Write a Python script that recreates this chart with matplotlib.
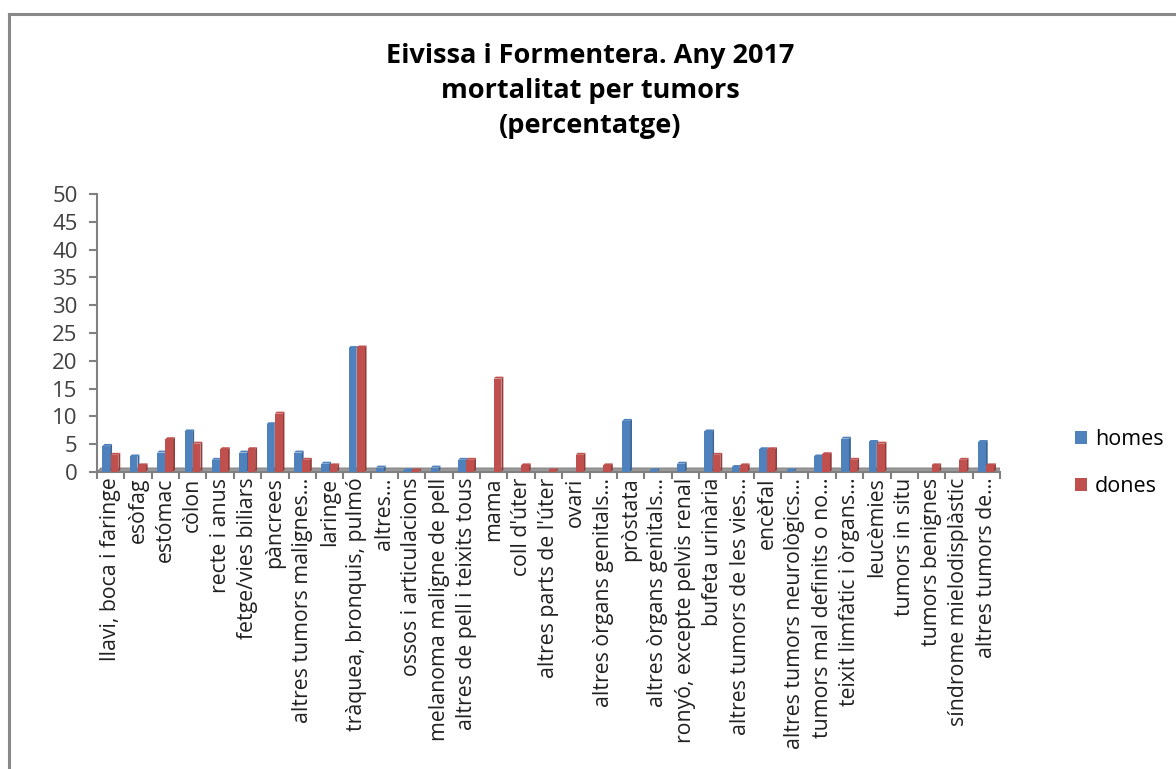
import matplotlib
matplotlib.use("Agg")
import matplotlib.pyplot as plt
import numpy as np
from matplotlib.patches import Rectangle, Polygon
from matplotlib.lines import Line2D

categories = [
    "llavi, boca i faringe", "esòfag", "estómac", "còlon", "recte i anus",
    "fetge/vies biliars", "pàncrees", "altres tumors malignes...", "laringe",
    "tràquea, bronquis, pulmó", "altres...", "ossos i articulacions",
    "melanoma maligne de pell", "altres de pell i teixits tous", "mama",
    "coll d'úter", "altres parts de l'úter", "ovari", "altres òrgans genitals...",
    "pròstata", "altres òrgans genitals...", "ronyó, excepte pelvis renal",
    "bufeta urinària", "altres tumors de les vies...", "encèfal",
    "altres tumors neurològics...", "tumors mal definits o no...",
    "teixit limfàtic i òrgans...", "leucèmies", "tumors in situ",
    "tumors benignes", "síndrome mielodisplàstic", "altres tumors de...",
]
homes = [4.7, 2.8, 3.5, 7.3, 2.2, 3.5, 8.6, 3.5, 1.5, 22.3, 0.8, 0.3,
         0.8, 2.2, 0.0, 0.0, 0.0, 0.0, 0.0, 9.2, 0.3, 1.5, 7.3, 0.9,
         4.1, 0.3, 2.8, 6.0, 5.4, 0.0, 0.0, 0.0, 5.4]
dones = [3.1, 1.2, 5.9, 5.1, 4.1, 4.1, 10.5, 2.2, 1.2, 22.4, 0.0, 0.3,
         0.0, 2.2, 16.8, 1.2, 0.3, 3.1, 1.2, 0.0, 0.0, 0.0, 3.1, 1.2,
         4.1, 0.0, 3.2, 2.2, 5.1, 0.0, 1.2, 2.2, 1.2]
series_names = ["homes", "dones"]
yticks = list(range(0, 55, 5))

blue = "#4F81BD"
red = "#C0504D"
blue_dark = "#3A6496"
red_dark = "#953B39"

fig = plt.figure(figsize=(11.76, 7.69), dpi=100)
# chart border (top & left visible)
fig.add_artist(Line2D([9/1176, 9/1176], [0, 1 - 14/769], color="#888888", lw=2.2,
                      transform=fig.transFigure))
fig.add_artist(Line2D([9/1176, 1], [1 - 14/769, 1 - 14/769], color="#888888", lw=2.2,
                      transform=fig.transFigure))

ax = fig.add_axes([97/1176, 1 - 472/769, (1000 - 97)/1176, (472 - 194)/769])
n = len(categories)
x = np.arange(n)
w = 0.28
dx, dy = 0.07, 0.35

# floor
ax.add_patch(Polygon([[-0.5, 0], [n - 0.5, 0], [n - 0.5 + dx * 2, dy * 2],
                      [-0.5 + dx * 2, dy * 2]], closed=True,
                     facecolor="#9a9a9a", edgecolor="#808080", lw=0.8, zorder=1))

for vals, off, c, cd in [(homes, -0.16, blue, blue_dark), (dones, 0.14, red, red_dark)]:
    for xi, v in zip(x, vals):
        if v <= 0:
            continue
        left = xi + off - w / 2
        # side face
        ax.add_patch(Polygon([[left + w, 0], [left + w + dx, dy], [left + w + dx, v + dy],
                              [left + w, v]], closed=True, facecolor=cd, edgecolor="none",
                             zorder=2))
        # top face
        ax.add_patch(Polygon([[left, v], [left + dx, v + dy], [left + w + dx, v + dy],
                              [left + w, v]], closed=True, facecolor=c, edgecolor="none",
                             zorder=2))
    ax.bar(x + off, vals, width=w, color=c, zorder=3, linewidth=0)

ax.set_xlim(-0.5, n - 0.5)
ax.set_ylim(0, 50)
ax.set_yticks(yticks)
ax.set_yticklabels([str(t) for t in yticks], fontsize=16, color="#404040",
                   family="Open Sans")
ax.set_xticks(x)
ax.set_xticklabels(categories, rotation=90, fontsize=15.3, family="Open Sans",
                   color="#202020")
ax.set_xticks(np.arange(-0.5, n, 1), minor=True)
ax.tick_params(axis="x", which="major", length=0, pad=4)
ax.tick_params(axis="x", which="minor", length=5, color="#808080", width=1.5,
               direction="out")
ax.tick_params(axis="y", length=6, color="#808080", width=1.5, direction="out", pad=8)
for s in ["top", "right"]:
    ax.spines[s].set_visible(False)
ax.spines["left"].set_color("#808080")
ax.spines["left"].set_linewidth(1.5)
ax.spines["bottom"].set_color("#808080")
ax.spines["bottom"].set_linewidth(1.5)

title_lines = ["Eivissa i Formentera. Any 2017", "mortalitat per tumors", "(percentatge)"]
for ty, line in zip([56, 91, 126], title_lines):
    fig.text(590/1176, 1 - ty/769, line, ha="center", va="center",
             fontsize=19.5, fontweight="bold", family="Open Sans")

handles = [Rectangle((0, 0), 1, 1, facecolor=blue), Rectangle((0, 0), 1, 1, facecolor=red)]
fig.legend(handles, series_names, loc="center left", bbox_to_anchor=(1056/1176, 1 - 463/769),
           frameon=False, prop={"family": "Open Sans", "size": 15.5}, handlelength=0.55,
           handleheight=0.55, handletextpad=0.35, labelspacing=1.2)

fig.savefig("out.png", dpi=100, facecolor="white")
